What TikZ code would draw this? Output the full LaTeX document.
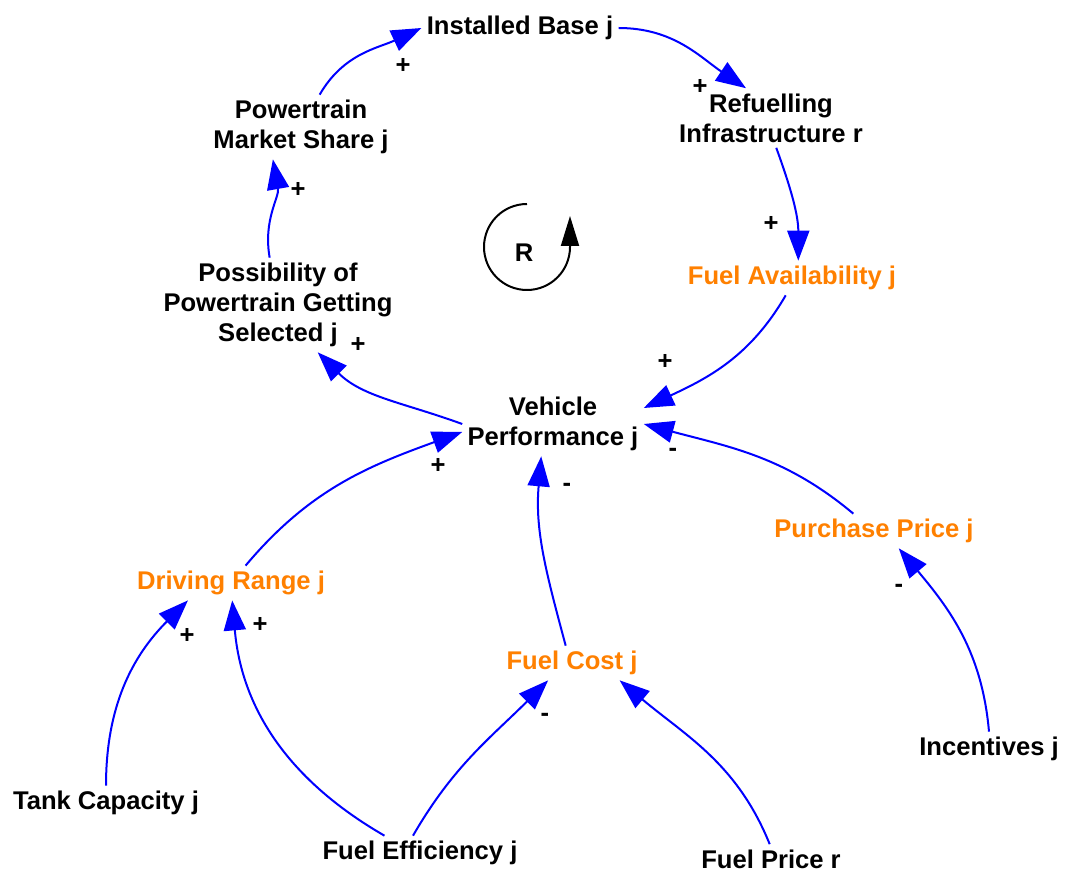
\documentclass[tikz,border=0pt]{standalone}
\usepackage{fontspec}
\setmainfont{Liberation Sans}
\usetikzlibrary{arrows.meta}
\definecolor{auxorange}{RGB}{255,128,0}

\begin{document}
\begin{tikzpicture}[x=0.5pt,y=0.5pt,
		var/.style={align=center,inner sep=2.5pt,yshift=-1.5pt,font=\fontsize{12.8}{15}\selectfont\bfseries},
		aux/.style={var,text=auxorange},
		link/.style={blue,line width=1pt,-{Triangle[length=15pt,width=11pt]}},
		sgn/.style={inner sep=0pt,font=\fontsize{12.8}{15}\selectfont\bfseries}]
	\useasboundingbox (0,0) rectangle (1072,-877);

	% variables
	\node[var] (ib) at (520,-25) {Installed Base j};
	\node[var] (ref) at (771,-115) {Refuelling\\Infrastructure r};
	\node[aux] (fa) at (792,-275) {Fuel Availability j};
	\node[var] (vp) at (553,-421) {Vehicle\\Performance j};
	\node[var] (pos) at (278,-302) {Possibility of\\Powertrain Getting\\Selected j};
	\node[var] (pms) at (301,-124) {Powertrain\\Market Share j};
	\node[aux] (dr) at (231,-580) {Driving Range j};
	\node[aux] (fc) at (572,-660) {Fuel Cost j};
	\node[aux] (pp) at (874,-528) {Purchase Price j};
	\node[var] (tc) at (106,-800) {Tank Capacity j};
	\node[var] (fe) at (420,-850) {Fuel Efficiency j};
	\node[var] (fp) at (771,-856) {Fuel Price r};
	\node[var] (inc) at (989,-746) {Incentives j};

	% reinforcing loop
	\node[var] (loopR) at (524,-250) {R};
	\draw[line width=1pt,-{Triangle[length=15pt,width=9pt]}] (527,-204) arc[start angle=90, end angle=360, radius=43] -- (570,-216);

	% causal links
	\draw[link] (pms.60) to[out=60,in=205] (ib.west);
	\draw[link] (ib.east) to[out=0,in=146] (ref.130);
	\draw[link] (ref.-80) to[out=-70,in=90] (fa.70);
	\draw[link] (fa.-110) to[out=-120,in=25] (vp.10);
	\draw[link] (pp.140) to[out=140,in=-15] (vp.east);
	\draw[link] (vp.west) to[out=160,in=-45] (pos.-50);
	\draw[link] (pos.100) to[out=100,in=-80] (pms.-131);
	\draw[link] (dr.50) to[out=50,in=200] (vp.185);
	\draw[link] (fc.110) to[out=105,in=-95] (vp.-110);
	\draw[link] (tc.north) to[out=90,in=225] (dr.-158);
	\draw[link] (fe.154) to[out=150,in=-85] (dr.-86);
	\draw[link] (fe.112) to[out=60,in=225] (fc.-144);
	\draw[link] (fp.95) to[out=112,in=-40] (fc.-20);
	\draw[link] (inc.north) to[out=95,in=-50] (pp.-35);

	% polarities
	\node[sgn] (s1) at (403,-66) {+};
	\node[sgn] (s2) at (700,-87) {+};
	\node[sgn] (s3) at (771,-224) {+};
	\node[sgn] (s4) at (665,-362) {+};
	\node[sgn] (s5) at (673,-452) {-};
	\node[sgn] (s6) at (358,-345) {+};
	\node[sgn] (s7) at (298,-190) {+};
	\node[sgn] (s8) at (438,-466) {+};
	\node[sgn] (s9) at (567,-487) {-};
	\node[sgn] (s10) at (187,-636) {+};
	\node[sgn] (s11) at (260,-625) {+};
	\node[sgn] (s12) at (545,-717) {-};
	\node[sgn] (s13) at (899,-588) {-};
\end{tikzpicture}
\end{document}
